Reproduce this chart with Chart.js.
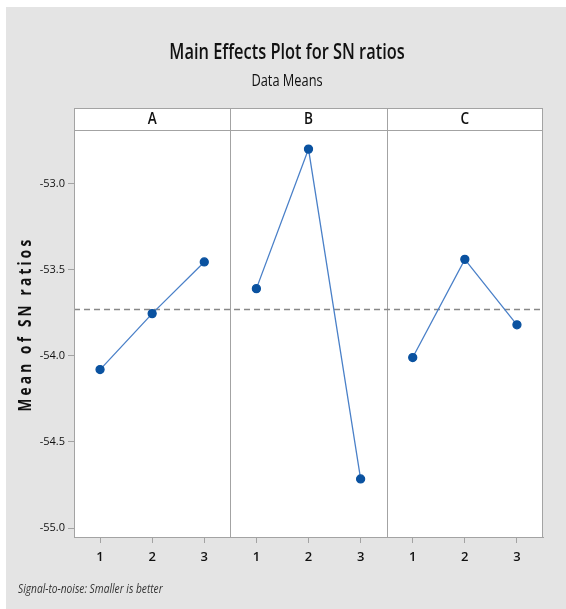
<!DOCTYPE html>
<html lang="en-US">
	<head>
		<meta charset="utf-8" />
		<title>Main Effects Plot for SN ratios</title>
		<style>
			html, body { margin: 0; padding: 0; background: #fff; }
			#chart { position: absolute; left: 6px; top: 7px; background: #e4e4e4; }
		</style>
	</head>
	<body>
		<canvas id="chart" width="560" height="602"></canvas>

		<script src="https://cdn.jsdelivr.net/npm/chart.js@4/dist/chart.umd.min.js"></script>
		<script>
			// Main effects: mean SN ratio per level for each factor
			const factors = ["A", "B", "C"];
			const levels = ["1", "2", "3"];
			const meanA = [-54.08, -53.755, -53.455];
			const meanB = [-53.61, -52.8, -54.715];
			const meanC = [-54.01, -53.44, -53.82];
			const grandMean = -53.73;
			const yTicks = [-55.0, -54.5, -54.0, -53.5, -53.0];

			const FONT = "'Open Sans', sans-serif";
			const BORDER = "#a3a3a3";
			const allMeans = [meanA, meanB, meanC];

			const datasets = allMeans.map((means, i) => ({
				label: factors[i],
				data: means.map((v, j) => ({ x: i * levels.length + j + 1, y: v })),
				borderColor: "#4a80c8",
				borderWidth: 1.3,
				pointBackgroundColor: "#0a52a0",
				pointBorderColor: "#0a52a0",
				pointRadius: 4,
				tension: 0,
			}));

			// draws text squeezed horizontally, the original uses a condensed face
			function narrowText(ctx, text, x, y, font, sx, align) {
				ctx.save();
				ctx.font = font;
				ctx.textAlign = align || "center";
				ctx.textBaseline = "middle";
				ctx.translate(x, y);
				ctx.scale(sx, 1);
				ctx.fillText(text, 0, 0);
				ctx.restore();
			}

			const panels = {
				id: "panels",
				beforeDraw(chart) {
					const { ctx, chartArea: a } = chart;
					const mid = chart.width / 2 + 1;
					ctx.save();
					ctx.fillStyle = "#111";
					narrowText(ctx, "Main Effects Plot for SN ratios", mid, 46, "600 21px " + FONT, 0.78);
					narrowText(ctx, "Data Means", mid, 74, "500 16px " + FONT, 0.8);
					ctx.fillStyle = "#fff";
					ctx.fillRect(a.left, a.top, a.right - a.left, a.bottom - a.top);
					// header strip with factor names
					ctx.fillRect(a.left, a.top - 22, a.right - a.left, 22);
					ctx.strokeStyle = BORDER;
					ctx.lineWidth = 1;
					ctx.strokeRect(a.left + 0.5, a.top - 21.5, a.right - a.left - 1, 22);
					const x = chart.scales.x;
					ctx.fillStyle = "#111";
					factors.forEach((f, i) => {
						const l = x.getPixelForValue(i * 3 + 0.5);
						const r = x.getPixelForValue(i * 3 + 3.5);
						narrowText(ctx, f, (l + r) / 2, a.top - 11, "600 16px " + FONT, 0.85);
						if (i > 0) {
							ctx.beginPath();
							ctx.moveTo(Math.round(l) + 0.5, a.top - 22);
							ctx.lineTo(Math.round(l) + 0.5, a.bottom);
							ctx.stroke();
						}
					});
					ctx.restore();
				},
				beforeDatasetsDraw(chart) {
					const { ctx, chartArea: a } = chart;
					const y = Math.round(chart.scales.y.getPixelForValue(grandMean)) + 0.5;
					ctx.save();
					ctx.strokeStyle = "#888";
					ctx.lineWidth = 1.6;
					ctx.setLineDash([6, 4]);
					ctx.beginPath();
					ctx.moveTo(a.left, y);
					ctx.lineTo(a.right, y);
					ctx.stroke();
					ctx.restore();
				},
				afterDraw(chart) {
					const { ctx, chartArea: a } = chart;
					ctx.save();
					ctx.strokeStyle = BORDER;
					ctx.lineWidth = 1;
					ctx.strokeRect(a.left + 0.5, a.top + 0.5, a.right - a.left - 1, a.bottom - a.top);
					// y axis title, spaced out like the original
					ctx.fillStyle = "#111";
					ctx.font = "bold 17px " + FONT;
					ctx.letterSpacing = "4px";
					ctx.textAlign = "center";
					ctx.textBaseline = "middle";
					ctx.translate(20, 317);
					ctx.rotate(-Math.PI / 2);
					ctx.scale(0.8, 1);
					ctx.fillText("Mean of SN ratios", 0, 0);
					ctx.restore();
					// footnote
					ctx.save();
					ctx.fillStyle = "#333";
					narrowText(ctx, "Signal-to-noise: Smaller is better", 12, 583, "italic 12px " + FONT, 0.85, "left");
					ctx.restore();
				},
			};

			new Chart(document.getElementById("chart"), {
				type: "line",
				data: { datasets },
				options: {
					responsive: false,
					animation: false,
					devicePixelRatio: 1,
					layout: { padding: { left: 0, right: 23, top: 123, bottom: 0 } },
					plugins: {
						legend: { display: false },
						tooltip: { enabled: false },
					},
					scales: {
						x: {
							type: "linear",
							min: 0.5,
							max: 9.5,
							afterBuildTicks: (s) => {
								s.ticks = [1, 2, 3, 4, 5, 6, 7, 8, 9].map((v) => ({ value: v }));
							},
							afterFit: (s) => {
								s.height = 72;
							},
							ticks: {
								color: "#111",
								font: { family: FONT, size: 13, weight: "600" },
								padding: 6,
								maxRotation: 0,
								callback: (v) => levels[(v - 1) % 3],
							},
							grid: { drawOnChartArea: false, drawTicks: true, tickLength: 6, color: BORDER },
							border: { color: BORDER },
						},
						y: {
							min: -55.052,
							max: -52.689,
							afterBuildTicks: (s) => {
								s.ticks = yTicks.map((v) => ({ value: v }));
							},
							afterFit: (s) => {
								s.width = 68;
							},
							ticks: {
								color: "#111",
								font: { family: FONT, size: 11 },
								padding: 3,
								callback: (v) => v.toFixed(1),
							},
							grid: { drawOnChartArea: false, drawTicks: true, tickLength: 6, color: BORDER },
							border: { color: BORDER },
						},
					},
				},
				plugins: [panels],
			});
		</script>
	</body>
</html>
